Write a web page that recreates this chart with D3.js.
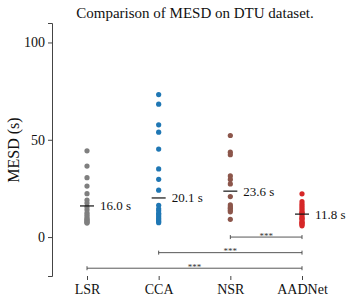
<!DOCTYPE html>
<html>
<head>
<meta charset="utf-8">
<script src="https://cdn.jsdelivr.net/npm/d3@7.9.0/dist/d3.min.js"></script>
<style>
  body { margin: 0; background: #fff; }
  svg text { font-family: "Liberation Serif", "Times New Roman", serif !important; }
</style>
</head>
<body>
<svg width="349" height="302"></svg>
<script>
// data
const methods = ["LSR", "CCA", "NSR", "AADNet"];
const colors = ["#7f7f7f", "#1f77b4", "#8c564b", "#d62728"];
const lsr = [44.3, 36.5, 30.5, 26.2, 22.3, 19.0, 17.5, 15.5, 14.0, 12.5, 11.5, 10.5, 9.5, 9.0, 8.5, 8.0, 7.5, 7.2];
const cca = [73.2, 68.3, 57.7, 53.9, 45.2, 35.0, 29.7, 24.1, 16.3, 14.5, 13.5, 12.2, 11.5, 10.5, 9.5, 8.8, 8.0, 7.4];
const nsr = [52.2, 43.6, 42.3, 31.4, 29.6, 27.3, 20.8, 16.5, 15.5, 14.8, 13.8, 13.0, 9.1];
const aadnet = [22.2, 18.2, 17.0, 16.0, 15.0, 14.0, 13.0, 12.5, 12.0, 11.0, 10.0, 9.5, 9.0, 8.0, 7.5, 7.0, 6.5, 5.8];
const means = [16.0, 20.1, 23.6, 11.8];
const yTicks = [0, 50, 100];
// significance brackets: [from, to, level]
const brackets = [["NSR", "AADNet", 0], ["CCA", "AADNet", -8], ["LSR", "AADNet", -16]];

const series = [lsr, cca, nsr, aadnet];
const serif = '"Liberation Serif", "Times New Roman", serif';
const svg = d3.select("svg");

const x = d3.scalePoint().domain(methods).range([87, 302]);
const y = d3.scaleLinear().domain([-20, 110]).range([276, 23]);

function setFont(sel, size) {
    sel.style("font-family", serif, "important")
        .style("font-size", size + "px")
        .attr("fill", "#111");
    return sel;
}

// title
setFont(svg.append("text")
    .attr("x", 195).attr("y", 18)
    .attr("text-anchor", "middle")
    .text("Comparison of MESD on DTU dataset."), 15);

// y axis
const yAxis = svg.append("g")
    .attr("transform", "translate(52,0)")
    .call(d3.axisLeft(y).tickValues(yTicks).tickSize(4).tickPadding(3));
yAxis.attr("font-family", null);
yAxis.select(".domain").attr("stroke", "#444");
yAxis.selectAll(".tick line").attr("stroke", "#444");
setFont(yAxis.selectAll("text"), 14);

setFont(svg.append("text")
    .attr("transform", "translate(19,150) rotate(-90)")
    .attr("text-anchor", "middle")
    .text("MESD (s)"), 16);

// x axis: ticks and labels only, no line
const xAxis = svg.append("g")
    .attr("transform", "translate(0,276)")
    .call(d3.axisBottom(x).tickSize(4).tickPadding(4));
xAxis.attr("font-family", null);
xAxis.select(".domain").remove();
xAxis.selectAll(".tick line").attr("stroke", "#444");
setFont(xAxis.selectAll("text"), 14);

// dots
methods.forEach((m, i) => {
    svg.append("g").selectAll("circle")
        .data(series[i])
        .enter()
        .append("circle")
        .attr("cx", x(m))
        .attr("cy", d => y(d))
        .attr("r", 2.6)
        .attr("fill", colors[i]);
});

// mean lines and labels
methods.forEach((m, i) => {
    svg.append("line")
        .attr("x1", x(m) - 7).attr("x2", x(m) + 7)
        .attr("y1", y(means[i])).attr("y2", y(means[i]))
        .attr("stroke", "#111").attr("stroke-width", 1.2);
    setFont(svg.append("text")
        .attr("x", x(m) + 13)
        .attr("y", y(means[i]) + 4.5)
        .text(means[i].toFixed(1) + " s"), 13);
});

// significance brackets
brackets.forEach(([a, b, lvl]) => {
    const g = svg.append("g").attr("stroke", "#444").attr("stroke-width", 0.9);
    const yy = y(lvl);
    g.append("line").attr("x1", x(a)).attr("x2", x(b)).attr("y1", yy).attr("y2", yy);
    g.append("line").attr("x1", x(a)).attr("x2", x(a)).attr("y1", yy - 2).attr("y2", yy + 2);
    g.append("line").attr("x1", x(b)).attr("x2", x(b)).attr("y1", yy - 2).attr("y2", yy + 2);
    setFont(svg.append("text")
        .attr("x", (x(a) + x(b)) / 2)
        .attr("y", yy + 1.5)
        .attr("text-anchor", "middle")
        .text("***"), 9).attr("fill", "#333");
});
</script>
</body>
</html>
